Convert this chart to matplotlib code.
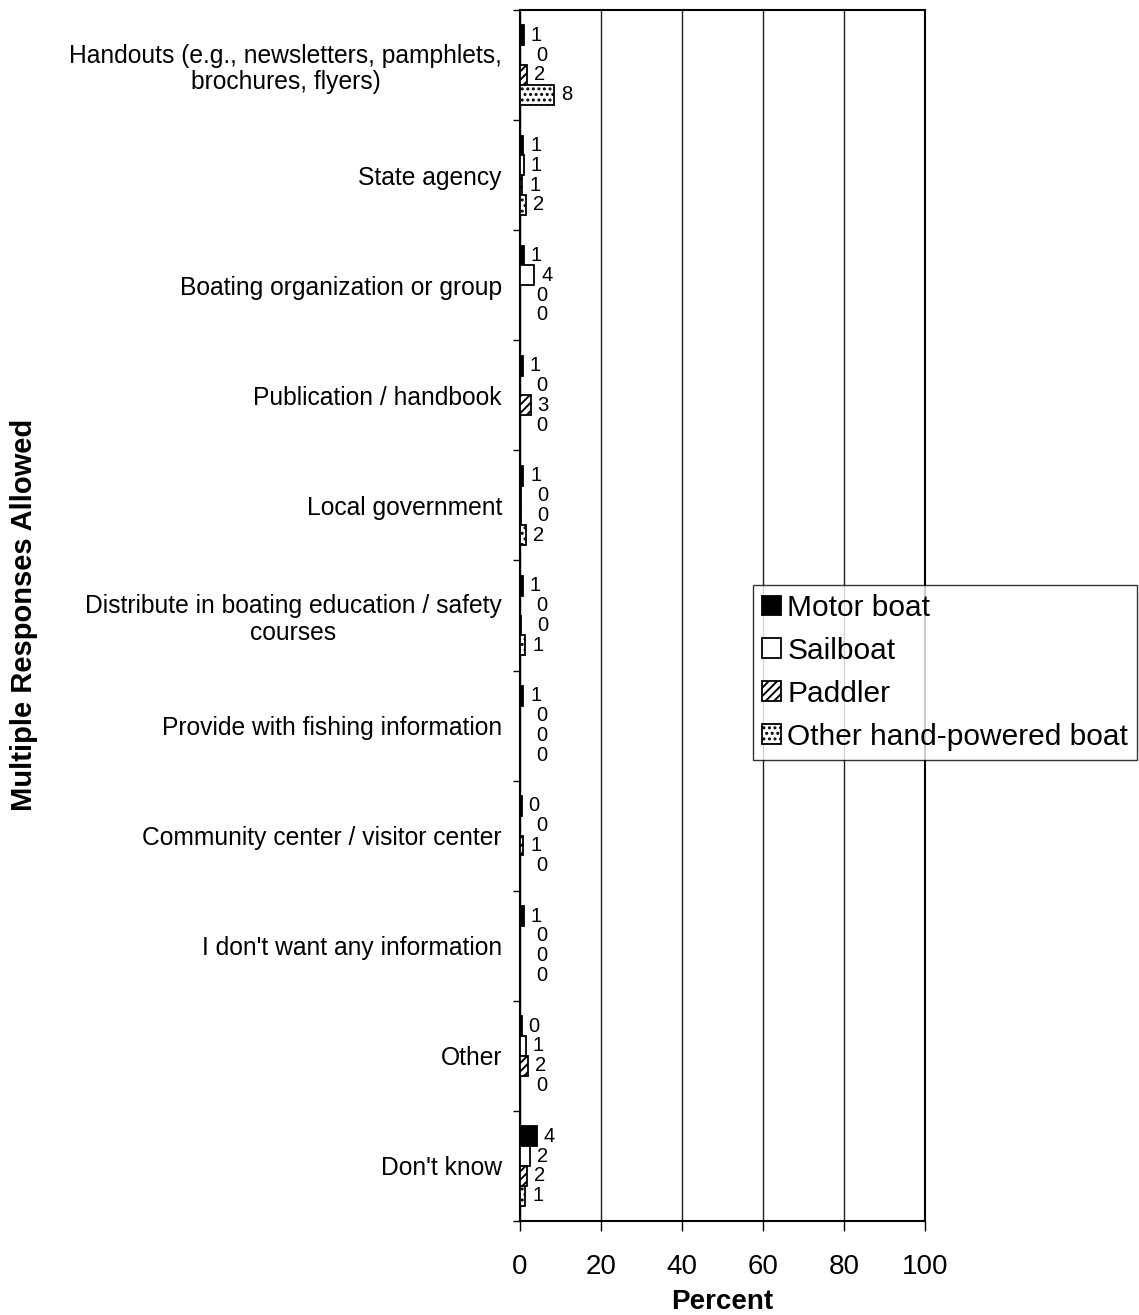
import matplotlib
matplotlib.use("Agg")
import matplotlib.pyplot as plt
import numpy as np

plt.rcParams['font.family'] = ['Liberation Sans', 'DejaVu Sans']
plt.rcParams['hatch.linewidth'] = 1.4

categories = [
    "Handouts (e.g., newsletters, pamphlets,\nbrochures, flyers)",
    "State agency",
    "Boating organization or group",
    "Publication / handbook",
    "Local government",
    "Distribute in boating education / safety\ncourses",
    "Provide with fishing information",
    "Community center / visitor center",
    "I don't want any information",
    "Other",
    "Don't know",
]
series_names = ["Motor boat", "Sailboat", "Paddler", "Other hand-powered boat"]
motor = [0.9, 0.8, 0.9, 0.7, 0.8, 0.7, 0.8, 0.4, 1.0, 0.4, 4.2]
sail = [0.0, 0.9, 3.5, 0.0, 0.3, 0.0, 0.0, 0.0, 0.0, 1.4, 2.4]
paddler = [1.8, 0.6, 0.1, 2.6, 0.2, 0.2, 0.0, 0.8, 0.0, 1.9, 1.7]
other = [8.5, 1.6, 0.0, 0.0, 1.5, 1.3, 0.0, 0.0, 0.0, 0.0, 1.3]
xticks = [0, 20, 40, 60, 80, 100]

series = [motor, sail, paddler, other]
faces = ['black', 'white', 'white', 'white']
hatches = [None, None, '////', '...']

fig = plt.figure(figsize=(11.39, 13.15), dpi=100)
ax = fig.add_axes([520/1139, 1-1221/1315, 405/1139, 1211/1315])

n = len(categories)
y = np.arange(n)
bh = 0.18
offsets = [-0.27, -0.09, 0.09, 0.27]
for vals, fc, h, off, name in zip(series, faces, hatches, offsets, series_names):
    ax.barh(y + off, vals, height=bh, color=fc, edgecolor='black',
            linewidth=1.3, hatch=h, label=name, zorder=3)
    for yy, v in zip(y + off, vals):
        dx = 5 if v > 0.3 else 11.5
        ax.annotate(f"{v:.0f}", xy=(v, yy), xytext=(dx, 0), textcoords='offset points',
                    ha='left', va='center', fontsize=14.5)

ax.set_xlim(0, 100)
ax.set_ylim(n - 0.5, -0.5)
ax.set_xticks(xticks)
ax.set_xticklabels([str(t) for t in xticks], fontsize=20)
ax.xaxis.grid(True, color='#222222', linewidth=1.0, zorder=0)
ax.tick_params(axis='x', length=7, width=1.0, direction='out', pad=17)

ax.set_yticks(y)
ax.set_yticklabels(categories, fontsize=17.7, ha='right', multialignment='center',
                   linespacing=1.15)
ax.tick_params(axis='y', length=0, pad=13)
ax.set_yticks(np.arange(-0.5, n, 1.0), minor=True)
ax.tick_params(axis='y', which='minor', length=5, width=1.0, direction='out')

for s in ['left', 'bottom', 'top', 'right']:
    ax.spines[s].set_linewidth(1.5)

ax.set_xlabel("Percent", fontsize=20, fontweight='bold', labelpad=6)
fig.text(24/1139, 1-615/1315, "Multiple Responses Allowed", rotation=90,
         ha='center', va='center', fontsize=21, fontweight='bold')

leg = ax.legend(loc='upper left', bbox_to_anchor=(753/1139, 1-585/1315),
                bbox_transform=fig.transFigure, fontsize=21.5, frameon=True,
                fancybox=False, edgecolor='black', handlelength=0.65,
                handleheight=0.65, handletextpad=0.2, borderpad=0.3,
                labelspacing=0.5, borderaxespad=0)
leg.get_frame().set_linewidth(1.0)

fig.savefig("out.png", dpi=100, facecolor='white')
